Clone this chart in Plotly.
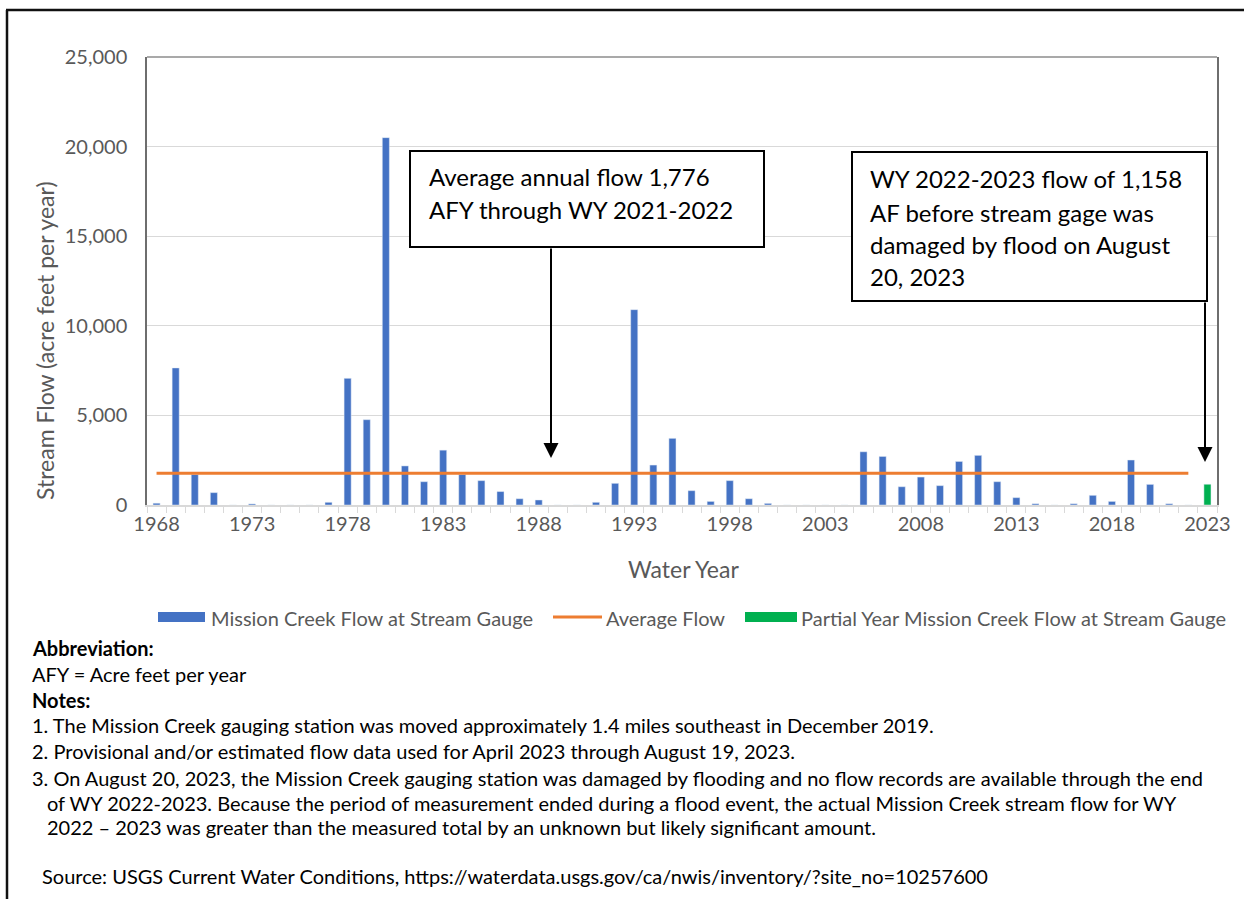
import plotly.graph_objects as go

# water years shown on the chart
years = list(range(1968, 2023))
flow = [100, 7650, 1700, 690, 0, 60, 0, 0, 0, 150,
        7070, 4760, 20500, 2180, 1300, 3060, 1700, 1360, 750, 350,
        280, 0, 0, 150, 1210, 10900, 2230, 3720, 800, 200,
        1360, 350, 90, 0, 0, 0, 0, 2970, 2710, 1020,
        1560, 1080, 2430, 2770, 1300, 410, 70, 0, 70, 540,
        200, 2510, 1150, 70, 0]
partial_years = [2023]
partial_flow = [1158]
avg_flow = 1776
tick_years = list(range(1968, 2024, 5))

note_lines = [
    ("<b>Abbreviation:</b>", 30, 648),
    ("AFY = Acre feet per year", 30, 674),
    ("<b>Notes:</b>", 30, 700),
    ("1. The Mission Creek gauging station was moved approximately 1.4 miles southeast in December 2019.", 30, 725),
    ("2. Provisional and/or estimated flow data used for April 2023 through August 19, 2023.", 30, 751),
    ("3. On August 20, 2023, the Mission Creek gauging station was damaged by flooding and no flow records are available through the end", 30, 778),
    ("of WY 2022-2023. Because the period of measurement ended during a flood event, the actual Mission Creek stream flow for WY", 45, 803),
    ("2022 \u2013 2023 was greater than the measured total by an unknown but likely significant amount.", 45, 827),
    ("Source: USGS Current Water Conditions, https://waterdata.usgs.gov/ca/nwis/inventory/?site_no=10257600", 40, 876),
]

FONT = "Lato"
L, R, T, B = 147, 1217, 57, 505


def px(x):
    return (x - L) / (R - L)


def py(y):
    return (B - y) / (B - T)


fig = go.Figure()
fig.add_trace(go.Bar(x=years, y=flow, marker_color="#4472C4", width=0.37,
                     name="Mission Creek Flow at Stream Gauge"))
fig.add_trace(go.Bar(x=partial_years, y=partial_flow, marker_color="#00B050", width=0.37,
                     name="Partial Year Mission Creek Flow at Stream Gauge"))
fig.add_trace(go.Scatter(x=years, y=[avg_flow] * len(years), mode="lines",
                         line=dict(color="#ED7D31", width=3), name="Average Flow"))

shapes = []
# plot area top edge
shapes.append(dict(type="line", xref="paper", yref="paper", x0=0, x1=1, y0=1, y1=1,
                   line=dict(color="#8c8c8c", width=1.5)))
# outer frame (left and top)
shapes.append(dict(type="line", xref="paper", yref="paper", x0=px(7), x1=px(7), y0=py(10), y1=py(905),
                   line=dict(color="#111111", width=2.5)))
shapes.append(dict(type="line", xref="paper", yref="paper", x0=px(6), x1=px(1250), y0=py(10), y1=py(10),
                   line=dict(color="#111111", width=2.5)))
# callout boxes
for x0, y0, x1, y1 in [(410, 151, 764, 247), (852, 152, 1207, 301)]:
    shapes.append(dict(type="rect", xref="paper", yref="paper", x0=px(x0), x1=px(x1), y0=py(y1), y1=py(y0),
                       line=dict(color="#000000", width=2), fillcolor="white", layer="above"))
# legend swatches
shapes.append(dict(type="rect", xref="paper", yref="paper", x0=px(158), x1=px(205), y0=py(622), y1=py(612),
                   line=dict(width=0), fillcolor="#4472C4"))
shapes.append(dict(type="line", xref="paper", yref="paper", x0=px(553), x1=px(602), y0=py(617), y1=py(617),
                   line=dict(color="#ED7D31", width=3)))
shapes.append(dict(type="rect", xref="paper", yref="paper", x0=px(745), x1=px(797), y0=py(622), y1=py(612),
                   line=dict(width=0), fillcolor="#00B050"))

annotations = []
for text, x, y in [("Mission Creek Flow at Stream Gauge", 209, 618),
                   ("Average Flow", 604, 618),
                   ("Partial Year Mission Creek Flow at Stream Gauge", 799, 618)]:
    annotations.append(dict(text=text, xref="paper", yref="paper", x=px(x), y=py(y), xanchor="left",
                            yanchor="middle", showarrow=False, font=dict(family=FONT, size=20, color="#595959")))

for text, x, y in note_lines:
    annotations.append(dict(text=text, xref="paper", yref="paper", x=px(x), y=py(y), xanchor="left",
                            yanchor="middle", showarrow=False, font=dict(family=FONT, size=20, color="#000000")))

box_lines = [("Average annual flow 1,776", 427, 176), ("AFY through WY 2021-2022", 427, 210),
             ("WY 2022-2023 flow of 1,158", 868, 178), ("AF before stream gage was", 868, 212),
             ("damaged by flood on August", 868, 244), ("20, 2023", 868, 276)]
for text, x, y in box_lines:
    annotations.append(dict(text=text, xref="paper", yref="paper", x=px(x), y=py(y), xanchor="left",
                            yanchor="middle", showarrow=False, font=dict(family=FONT, size=24, color="#000000")))

# arrows from boxes down to the chart
for x, y_tail, y_tip in [(551, 247, 458), (1205, 301, 462)]:
    annotations.append(dict(text="", xref="paper", yref="paper", x=px(x), y=py(y_tip),
                            axref="pixel", ayref="pixel", ax=0, ay=-(y_tip - y_tail),
                            showarrow=True, arrowhead=2, arrowsize=1.5, arrowwidth=2, arrowcolor="#000000",
                            standoff=0, startstandoff=0))

# axis titles
annotations.append(dict(text="Stream Flow (acre feet per year)", xref="paper", yref="paper", x=px(45), y=py(341),
                        textangle=-90, showarrow=False, xanchor="center", yanchor="middle",
                        font=dict(family=FONT, size=23, color="#595959")))
annotations.append(dict(text="Water Year", xref="paper", yref="paper", x=px(683), y=py(569),
                        showarrow=False, xanchor="center", yanchor="middle",
                        font=dict(family=FONT, size=23, color="#595959")))

fig.update_layout(
    width=1244, height=899,
    margin=dict(l=L, r=1244 - R, t=T, b=899 - B),
    paper_bgcolor="white", plot_bgcolor="white",
    showlegend=False, barmode="overlay",
    font=dict(family=FONT, color="#595959"),
    xaxis=dict(range=[1967.5, 2023.5], tickvals=tick_years, ticks="", showgrid=False,
               showline=True, linecolor="#D9D9D9", linewidth=1.5,
               tickfont=dict(size=20, color="#595959"),
               minor=dict(tick0=1967.5, dtick=1, ticks="outside", ticklen=6, tickcolor="#D9D9D9",
                          showgrid=False)),
    yaxis=dict(range=[0, 25000], dtick=5000, tickformat=",", showgrid=True, gridcolor="#D9D9D9",
               gridwidth=1, zeroline=False, showline=True, mirror=True, linecolor="#6e6e6e", linewidth=1.5,
               ticks="", ticklabelstandoff=14, tickfont=dict(size=20, color="#595959")),
    shapes=shapes,
    annotations=annotations,
)

# drop the default page margin so the figure sits at the window's top-left corner
fig.write_html("out.html", config={"displayModeBar": False},
               post_script="document.body.style.margin='0';")
